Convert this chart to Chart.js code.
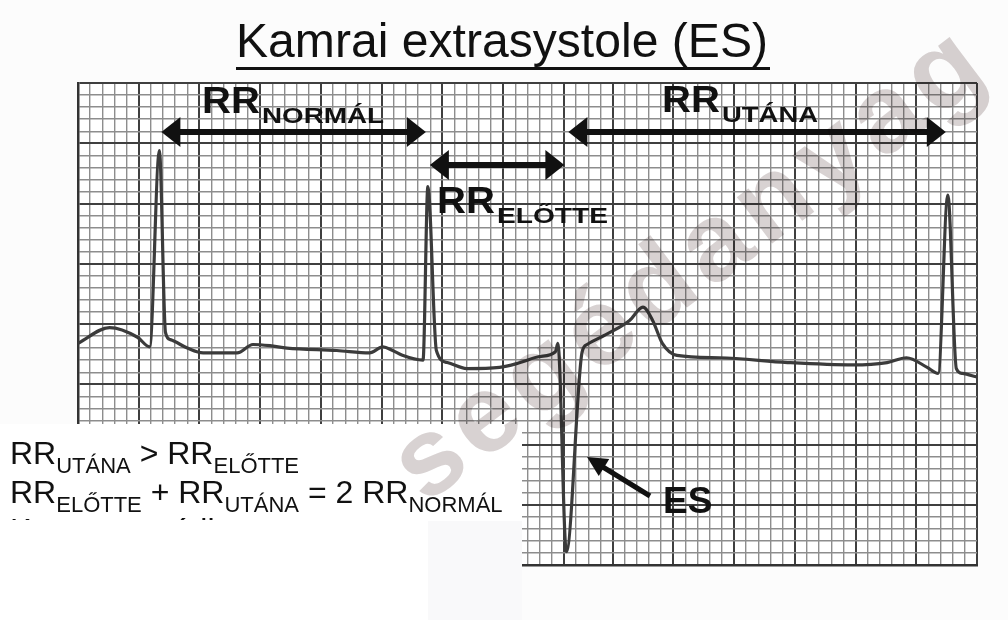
<!DOCTYPE html>
<html>
<head>
<meta charset="utf-8">
<script src="https://cdn.jsdelivr.net/npm/chart.js@4.4.1/dist/chart.umd.min.js"></script>
<style>
html,body{margin:0;padding:0;background:#fcfcfc;}
#wrap{width:1008px;height:620px;position:relative;}
canvas{display:block;}
</style>
</head>
<body>
<div id="wrap"><canvas id="c" width="1008" height="620"></canvas></div>
<script>
// ECG trace, in small-square (mm) units: time along x, amplitude along y
const timeMm = [0, 2.6, 4.9, 5.9, 6.7, 7.2, 7.6, 9.0, 10.3, 13.1, 14.4, 15.8, 17.2, 21.3, 24.0, 25.1, 25.9, 26.7, 28.4, 28.8,
  29.5, 30.4, 32.0, 34.7, 36.4, 38.0, 39.3, 39.5, 40.2, 41.5, 41.9, 43.8, 45.4, 46.5, 47.3, 48.1, 49.3, 52.8, 58.4, 63.8,
  66.6, 68.2, 69.9, 70.8, 71.6, 72.3, 72.8, 74.0];
const voltMm = [18.4, 19.7, 18.9, 18.1, 34.4, 19.3, 18.7, 18.0, 17.6, 17.6, 18.3, 18.2, 18.0, 17.8, 17.6, 18.1, 17.8, 17.4, 17.0, 31.4,
  17.8, 16.8, 16.3, 16.4, 16.8, 17.3, 17.7, 18.4, 1.1, 17.7, 18.3, 19.3, 20.3, 21.4, 20.3, 18.4, 17.4, 17.2, 16.8, 16.6,
  16.8, 17.2, 16.4, 15.9, 30.7, 16.3, 15.9, 15.6];

// R peaks (normal, normal, extrasystole, normal) used for the RR interval arrows
const rPeaks = [6.7, 28.8, 40.2, 71.6];
const rrNames = ['NORMÁL', 'ELŐTTE', 'UTÁNA'];

// grid lines of the ECG paper
const xGrid = Array.from({length: 75}, (_, i) => i);
const yGrid = Array.from({length: 41}, (_, i) => i);

const titleText = 'Kamrai extrasystole (ES)';
const esLabel = 'ES';
const noteLines = [
  [['RR', 'b'], ['UTÁNA', 's'], [' > ', 'b'], ['RR', 'b'], ['ELŐTTE', 's']],
  [['RR', 'b'], ['ELŐTTE', 's'], [' + ', 'b'], ['RR', 'b'], ['UTÁNA', 's'], [' = 2 ', 'b'], ['RR', 'b'], ['NORMÁL', 's']],
  [['Kompenzatórikus pauza', 'b']]
];
const watermarkText = 'segédanyag';

const FONT = "'Liberation Sans', Arial, sans-serif";

function isMajorX(v) { return v < 44 ? v % 5 === 0 : v % 5 === 4; }
function isMajorY(v) { return v % 5 === 0; }

function fitText(ctx, str, x, y, font, w) {
  ctx.font = font;
  const m = ctx.measureText(str).width;
  ctx.save();
  ctx.translate(x, y);
  ctx.scale(w / m, 1);
  ctx.fillText(str, 0, 0);
  ctx.restore();
}

function arrowHead(ctx, tipX, tipY, dirX, dirY, len, half) {
  const n = Math.hypot(dirX, dirY); dirX /= n; dirY /= n;
  const bx = tipX - dirX * len, by = tipY - dirY * len;
  ctx.beginPath();
  ctx.moveTo(tipX, tipY);
  ctx.lineTo(bx - dirY * half, by + dirX * half);
  ctx.lineTo(bx + dirY * half, by - dirX * half);
  ctx.closePath();
  ctx.fill();
}

function doubleArrow(ctx, x1, x2, y) {
  ctx.fillStyle = '#111';
  ctx.fillRect(x1 + 10, y - 3, x2 - x1 - 20, 6);
  arrowHead(ctx, x1, y, -1, 0, 19, 15);
  arrowHead(ctx, x2, y, 1, 0, 19, 15);
}

const overlay = {
  id: 'overlay',
  beforeDraw(chart) {
    const {ctx, chartArea: a} = chart;
    ctx.save();
    ctx.fillStyle = '#fcfcfc';
    ctx.fillRect(0, 0, chart.width, chart.height);
    ctx.fillStyle = '#ffffff';
    ctx.fillRect(a.left, a.top, a.right - a.left, a.bottom - a.top);
    ctx.restore();
  },
  afterDraw(chart) {
    const {ctx} = chart;
    const xs = chart.scales.x;
    ctx.save();

    // white text panel covering the lower-left of the strip
    ctx.fillStyle = '#ffffff';
    ctx.fillRect(0, 424, 522, 196);
    ctx.fillStyle = '#f9f9fa';
    ctx.fillRect(428, 521, 94, 99);

    // notes
    ctx.fillStyle = '#111';
    ctx.textBaseline = 'alphabetic';
    const baselines = [464, 503, 541];
    ctx.save();
    ctx.beginPath(); ctx.rect(0, 424, 522, 96); ctx.clip();
    noteLines.forEach((parts, i) => {
      let x = 10;
      parts.forEach(([t, k]) => {
        ctx.font = (k === 's' ? '22px ' : '32px ') + FONT;
        ctx.fillText(t, x, baselines[i] + (k === 's' ? 9 : 0));
        x += ctx.measureText(t).width;
      });
    });
    ctx.restore();

    // title
    ctx.fillStyle = '#111';
    fitText(ctx, titleText, 236, 57, '48px ' + FONT, 532);
    ctx.fillRect(236, 67, 534, 3);

    // RR arrows between R peaks
    const px = rPeaks.map(v => xs.getPixelForValue(v));
    const arrowY = [132, 165, 132];
    for (let i = 0; i < 3; i++) doubleArrow(ctx, px[i] + 2, px[i + 1] - 2, arrowY[i]);

    // RR labels
    const lab = [
      {x: 202, y: 113, sw: 122},
      {x: 437, y: 213, sw: 111},
      {x: 662, y: 112, sw: 96}
    ];
    ctx.fillStyle = '#111';
    lab.forEach((l, i) => {
      fitText(ctx, 'RR', l.x, l.y, 'bold 37px ' + FONT, 58);
      fitText(ctx, rrNames[i], l.x + 60, l.y + 10, 'bold 22px ' + FONT, l.sw);
    });

    // ES pointer
    ctx.strokeStyle = '#111';
    ctx.lineWidth = 5;
    ctx.beginPath(); ctx.moveTo(650, 496); ctx.lineTo(598, 464); ctx.stroke();
    arrowHead(ctx, 587, 457, -63, -39, 20, 10);
    ctx.font = 'bold 37px ' + FONT;
    ctx.fillText(esLabel, 663, 513);

    // watermark
    ctx.globalCompositeOperation = 'multiply';
    ctx.fillStyle = '#d8d2d2';
    ctx.translate(425, 505);
    ctx.rotate(-37 * Math.PI / 180);
    ctx.font = 'bold 110px ' + FONT;
    ctx.letterSpacing = '8px';
    ctx.fillText(watermarkText, 0, 0);
    ctx.restore();
  }
};

new Chart(document.getElementById('c'), {
  type: 'line',
  data: {
    datasets: [{
      data: timeMm.map((t, i) => ({x: t, y: voltMm[i]})),
      borderColor: '#3b3b3b',
      borderWidth: 3.2,
      pointRadius: 0,
      fill: false,
      cubicInterpolationMode: 'monotone'
    }]
  },
  options: {
    responsive: false,
    devicePixelRatio: 1,
    animation: false,
    layout: {padding: {left: 78, top: 83, right: 31, bottom: 55}},
    plugins: {legend: {display: false}, tooltip: {enabled: false}, title: {display: false}},
    scales: {
      x: {
        type: 'linear', min: 0, max: 74,
        ticks: {display: false, stepSize: 1, autoSkip: false},
        afterBuildTicks: s => { s.ticks = xGrid.map(v => ({value: v})); },
        grid: {
          drawTicks: false,
          color: c => isMajorX(c.tick.value) ? '#3f3f3f' : '#8d8d8d',
          lineWidth: c => isMajorX(c.tick.value) ? 2 : 1.4
        },
        border: {display: true, color: '#333', width: 2.5}
      },
      y: {
        type: 'linear', min: 0, max: 40,
        ticks: {display: false, stepSize: 1, autoSkip: false},
        afterBuildTicks: s => { s.ticks = yGrid.map(v => ({value: v})); },
        grid: {
          drawTicks: false,
          color: c => isMajorY(c.tick.value) ? '#3f3f3f' : '#8d8d8d',
          lineWidth: c => isMajorY(c.tick.value) ? 2 : 1.4
        },
        border: {display: true, color: '#333', width: 2.5}
      }
    }
  },
  plugins: [overlay]
});
</script>
</body>
</html>
